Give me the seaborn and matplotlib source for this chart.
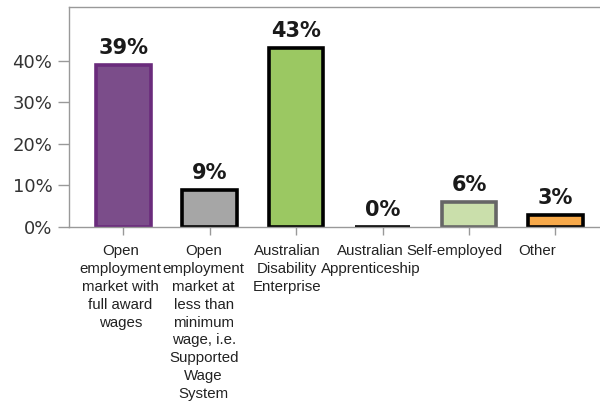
import matplotlib
matplotlib.use('Agg')
import matplotlib.pyplot as plt
import matplotlib.transforms as mtransforms
import seaborn as sns
import pandas as pd
from matplotlib.ticker import FuncFormatter

categories = ['Open\nemployment\nmarket with\nfull award\nwages',
              'Open\nemployment\nmarket at\nless than\nminimum\nwage, i.e.\nSupported\nWage\nSystem',
              'Australian\nDisability\nEnterprise',
              'Australian\nApprenticeship',
              'Self-employed',
              'Other']
values = [39, 9, 43, 0, 6, 3]
fills = ['#7b4d8a', '#a6a6a6', '#9bc862', '#000000', '#cadfab', '#f7a94a']
edges = ['#6a2b7c', '#000000', '#000000', '#000000', '#666666', '#000000']

df = pd.DataFrame({'cat': categories, 'pct': [v / 100 for v in values]})

sns.set_style('white')
fig = plt.figure(figsize=(6, 4.05), dpi=100)
ax = fig.add_axes([0.115, 0.4395, 0.89, 0.5435])

sns.barplot(data=df, x='cat', y='pct', hue='cat', palette=fills, legend=False,
            width=0.63, ax=ax, saturation=1)

for p, e in zip(ax.patches, edges):
    p.set_edgecolor(e)
    p.set_linewidth(2.6)

for i, v in enumerate(values):
    ax.annotate(f'{v}%', (i, v / 100), xytext=(0, 5), textcoords='offset points',
                ha='center', va='bottom', fontsize=15, fontweight='bold',
                color='#1a1a1a', family='DejaVu Sans')

ax.set_xlim(-0.628, 5.55)
ax.set_ylim(0, 0.53)
ax.set_yticks([0, 0.1, 0.2, 0.3, 0.4])
ax.yaxis.set_major_formatter(FuncFormatter(lambda y, _: f'{y * 100:.0f}%'))
ax.set_xlabel('')
ax.set_ylabel('')

for s in ax.spines.values():
    s.set_color('#999999')
    s.set_linewidth(1)

ax.tick_params(axis='y', which='major', left=True, length=8, width=1,
               color='#999999', labelsize=13, labelcolor='#333333', pad=4)
ax.tick_params(axis='x', which='major', bottom=True, length=6, width=1,
               color='#999999', pad=6)
# the category labels sit slightly left of their ticks, drifting more to the right
for i, lbl in enumerate(ax.get_xticklabels()):
    lbl.set_fontfamily('Liberation Sans')
    lbl.set_fontsize(10.8)
    lbl.set_linespacing(1.36)
    lbl.set_color('#222222')
    lbl.set_multialignment('center')
    shift = mtransforms.ScaledTranslation(-(3 + 3 * i) / 100, 0, fig.dpi_scale_trans)
    lbl.set_transform(lbl.get_transform() + shift)

plt.savefig('out.png', dpi=100)
